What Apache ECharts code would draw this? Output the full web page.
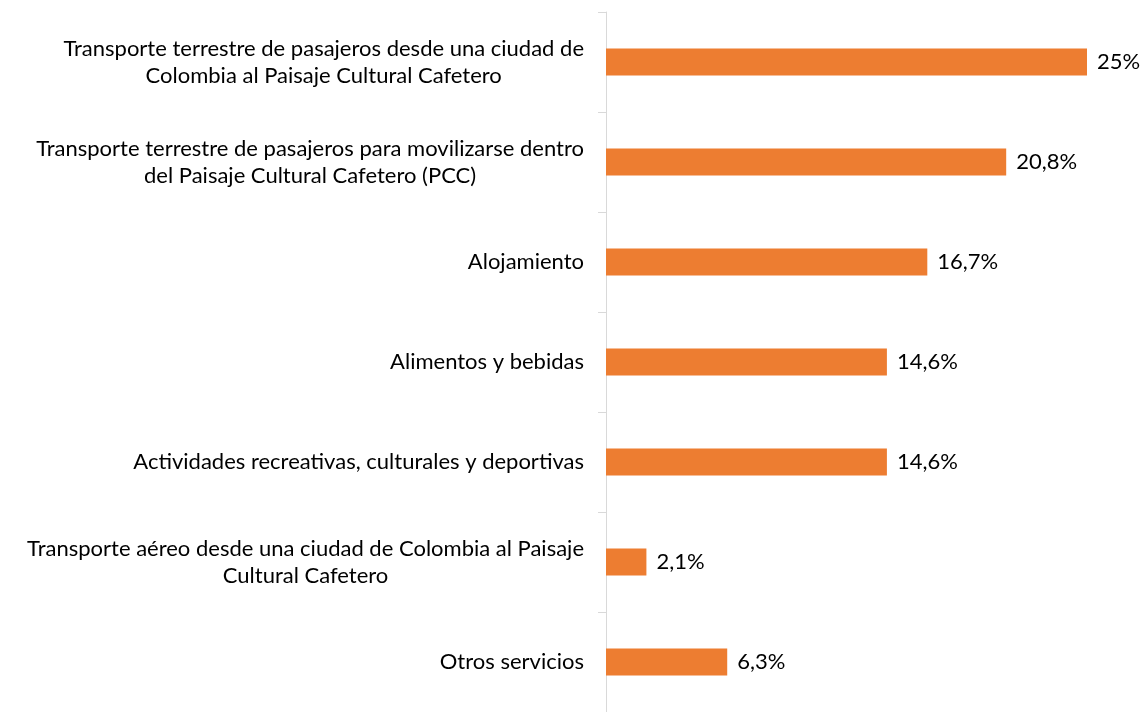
<!DOCTYPE html>
<html>
  <head>
    <meta charset="utf-8" />
    <title>ECharts</title>
    <script src="https://cdn.jsdelivr.net/npm/echarts@6/dist/echarts.min.js"></script>
    <style>
      html, body { margin: 0; padding: 0; background: #ffffff; }
      #box { width: 1145px; height: 712px; }
    </style>
  </head>
  <body>
    <div id="box"></div>
    <script>
      // categorias (de arriba hacia abajo)
      var categorias = [
        'Transporte terrestre de pasajeros desde una ciudad de\nColombia al Paisaje Cultural Cafetero',
        'Transporte terrestre de pasajeros para movilizarse dentro\ndel Paisaje Cultural Cafetero (PCC)',
        'Alojamiento',
        'Alimentos y bebidas',
        'Actividades recreativas, culturales y deportivas',
        'Transporte aéreo desde una ciudad de Colombia al Paisaje\nCultural Cafetero',
        'Otros servicios'
      ];
      var valores = [25, 20.8, 16.7, 14.6, 14.6, 2.1, 6.3];

      var fuente = 'Lato, "Open Sans", sans-serif';
      var tam = 22;

      var myChart = echarts.init(document.getElementById('box'));
      var option = {
        animation: false,
        grid: { left: 606, right: 58, top: 12, bottom: -2, containLabel: false },
        xAxis: {
          type: 'value',
          min: 0,
          max: 25,
          show: false
        },
        yAxis: {
          type: 'category',
          inverse: true,
          data: categorias,
          axisLine: { show: true, lineStyle: { color: '#d9d9d9', width: 1 } },
          axisTick: { show: true, length: 8, lineStyle: { color: '#d9d9d9' } },
          axisLabel: {
            margin: 22,
            color: '#000000',
            fontFamily: fuente,
            fontSize: tam,
            lineHeight: 27,
            formatter: function (v) {
              // lineas centradas dentro del bloque alineado a la derecha
              return v.split('\n').map(function (l) { return '{c|' + l + '}'; }).join('\n');
            },
            rich: {
              c: { align: 'center', fontFamily: fuente, fontSize: tam, lineHeight: 27, color: '#000000' }
            }
          }
        },
        series: [
          {
            type: 'bar',
            data: valores,
            barWidth: 27,
            itemStyle: { color: '#ed7d31' },
            label: {
              show: true,
              position: 'right',
              distance: 10,
              color: '#000000',
              fontFamily: fuente,
              fontSize: tam,
              formatter: function (p) {
                return String(p.value).replace('.', ',') + '%';
              }
            }
          }
        ]
      };
      myChart.setOption(option);
    </script>
  </body>
</html>
